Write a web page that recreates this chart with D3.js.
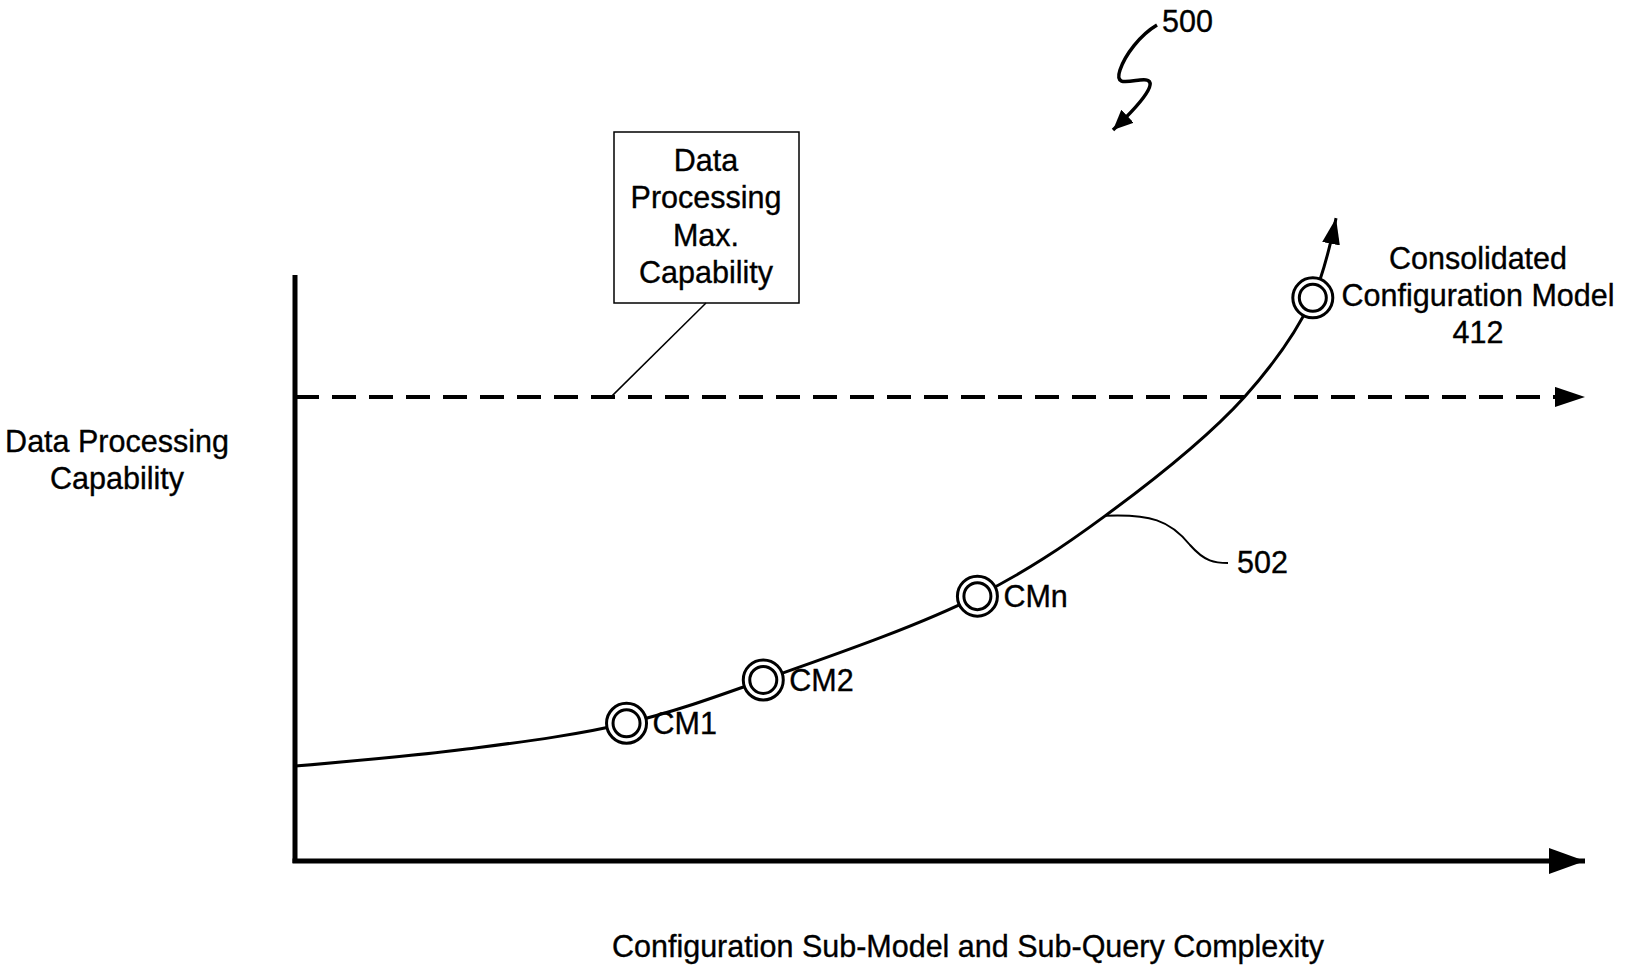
<!DOCTYPE html>
<html>
<head>
<meta charset="utf-8">
<script src="https://cdn.jsdelivr.net/npm/d3@7"></script>
<style>
  html, body { margin: 0; padding: 0; background: #fff; }
  svg { display: block; }
  text { font-family: "Liberation Sans", Arial, sans-serif; fill: #000; stroke: #000; stroke-width: 0.35; }
</style>
</head>
<body>
<script>
// ---- data ----
const curveX = [0, 13.3, 25.7, 36.3, 52.9, 62.8, 73.6, 78.9, 80.7];
const curveY = [16.2, 19.1, 23.5, 30.9, 45.2, 58.9, 79.2, 96.1, 109.7];
const modelNames = ["CM1", "CM2", "CMn", "Consolidated Configuration Model 412"];
const modelX = [25.7, 36.3, 52.9, 78.9];
const modelY = [23.5, 30.9, 45.2, 96.1];
const maxCapability = [79.2];
const yAxisLabel = ["Data Processing", "Capability"];
const xAxisLabel = ["Configuration Sub-Model and Sub-Query Complexity"];
const boxLabel = ["Data", "Processing", "Max.", "Capability"];
const consolidatedLabel = ["Consolidated", "Configuration Model", "412"];
const figureNumber = ["500"];
const curveNumber = ["502"];

const W = 1627, H = 969;
const svg = d3.select("body").append("svg").attr("width", W).attr("height", H);

const x = d3.scaleLinear().domain([0, 100]).range([295, 1585]);
const y = d3.scaleLinear().domain([0, 100]).range([861, 275]);

const defs = svg.append("defs");
function marker(id, w, h) {
  defs.append("marker").attr("id", id)
    .attr("viewBox", `0 0 ${w} ${h}`).attr("refX", w).attr("refY", h / 2)
    .attr("markerWidth", w).attr("markerHeight", h)
    .attr("markerUnits", "userSpaceOnUse").attr("orient", "auto")
    .append("path").attr("d", `M0,0L${w},${h/2}L0,${h}Z`).attr("fill", "#000");
}
marker("axArrow", 36, 26);
marker("dashArrow", 30, 20);
marker("curveArrow", 26, 18);
marker("smallArrow", 20, 18);

const FS = 30.5;

// axes
svg.append("line").attr("x1", x(0)).attr("x2", x(0)).attr("y1", y(100)).attr("y2", y(0) + 2)
  .attr("stroke", "#000").attr("stroke-width", 5);
svg.append("line").attr("x1", x(0) - 2.5).attr("x2", x(100)).attr("y1", y(0)).attr("y2", y(0))
  .attr("stroke", "#000").attr("stroke-width", 5).attr("marker-end", "url(#axArrow)");

// max capability dashed line
svg.append("line").attr("x1", x(0)).attr("x2", x(100)).attr("y1", y(maxCapability[0])).attr("y2", y(maxCapability[0]))
  .attr("stroke", "#000").attr("stroke-width", 4).attr("stroke-dasharray", "24,13")
  .attr("marker-end", "url(#dashArrow)");

// curve 502
const pts = curveX.map((d, i) => [x(d), y(curveY[i])]);
svg.append("path").attr("d", d3.line().curve(d3.curveCatmullRom.alpha(0.5))(pts))
  .attr("fill", "none").attr("stroke", "#000").attr("stroke-width", 3)
  .attr("marker-end", "url(#curveArrow)");

// model markers
modelX.forEach((d, i) => {
  const g = svg.append("g").attr("transform", `translate(${x(d)},${y(modelY[i])})`);
  g.append("circle").attr("r", 20).attr("fill", "#fff").attr("stroke", "#000").attr("stroke-width", 3);
  g.append("circle").attr("r", 13.5).attr("fill", "none").attr("stroke", "#000").attr("stroke-width", 3);
  if (i < 3) {
    g.append("text").attr("x", 26).attr("y", 11).attr("font-size", FS).text(modelNames[i]);
  }
});

// consolidated label
consolidatedLabel.forEach((t, i) => {
  svg.append("text").attr("x", 1478).attr("y", 269 + i * 37).attr("text-anchor", "middle")
    .attr("font-size", FS).text(t);
});

// Box label
svg.append("rect").attr("x", 614).attr("y", 132).attr("width", 185).attr("height", 171)
  .attr("fill", "#fff").attr("stroke", "#000").attr("stroke-width", 1.5);
boxLabel.forEach((t, i) => {
  svg.append("text").attr("x", 706).attr("y", 171 + i * 37.3).attr("text-anchor", "middle")
    .attr("font-size", FS).text(t);
});
svg.append("line").attr("x1", 706).attr("y1", 303).attr("x2", x(24.5)).attr("y2", y(maxCapability[0]))
  .attr("stroke", "#000").attr("stroke-width", 1.5);

// 502 leader
svg.append("path")
  .attr("d", `M${x(62.8)},${y(58.9)} C1150,514 1170,520 1190,545 C1205,562 1215,563 1228,563`)
  .attr("fill", "none").attr("stroke", "#000").attr("stroke-width", 2);
svg.append("text").attr("x", 1237).attr("y", 573).attr("font-size", FS).text(curveNumber[0]);

// 500 figure number
svg.append("text").attr("x", 1162).attr("y", 32).attr("font-size", FS).text(figureNumber[0]);
svg.append("path")
  .attr("d", "M1157,25 C1140,35 1125,55 1120,70 C1115,85 1125,82 1140,80 C1160,77 1150,95 1113,130")
  .attr("fill", "none").attr("stroke", "#000").attr("stroke-width", 3.5)
  .attr("marker-end", "url(#smallArrow)");

// axis labels
yAxisLabel.forEach((t, i) => {
  svg.append("text").attr("x", 117).attr("y", 452 + i * 37).attr("text-anchor", "middle")
    .attr("font-size", FS).text(t);
});
svg.append("text").attr("x", 968).attr("y", 957).attr("text-anchor", "middle")
  .attr("font-size", FS).text(xAxisLabel[0]);
</script>
</body>
</html>
